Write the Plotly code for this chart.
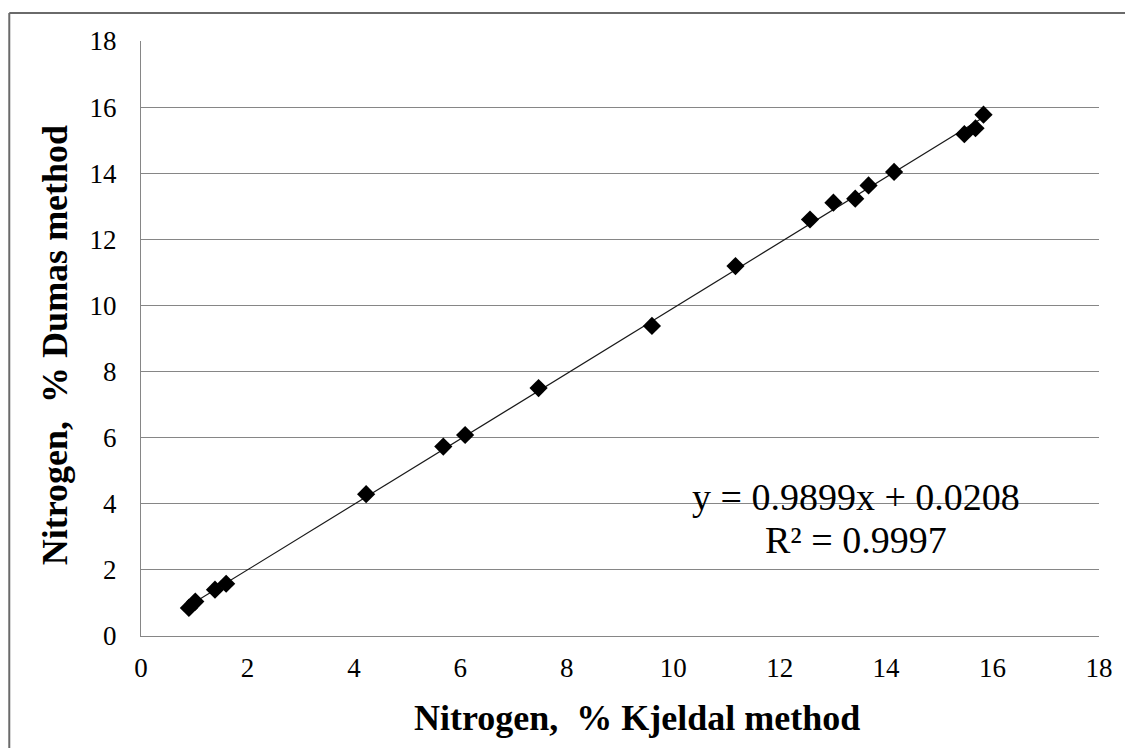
import plotly.graph_objects as go

# Data
kjeldahl = [0.90, 1.02, 1.39, 1.60, 4.23, 5.68, 6.09, 7.47, 9.60, 11.17,
            12.57, 13.01, 13.42, 13.67, 14.15, 15.47, 15.68, 15.83]
dumas = [0.85, 1.04, 1.40, 1.58, 4.29, 5.73, 6.08, 7.50, 9.38, 11.19,
         12.60, 13.11, 13.23, 13.63, 14.04, 15.18, 15.36, 15.77]
slope = 0.9899
intercept = 0.0208
r_squared = 0.9997
tick_vals = [0, 2, 4, 6, 8, 10, 12, 14, 16, 18]

FONT = "Liberation Serif"
GRID = "#868686"

trend_x = [min(kjeldahl), max(kjeldahl)]
trend_y = [slope * v + intercept for v in trend_x]

fig = go.Figure()
fig.add_trace(go.Scatter(x=trend_x, y=trend_y, mode="lines",
                         line=dict(color="#1a1a1a", width=1.2),
                         showlegend=False, hoverinfo="skip"))
fig.add_trace(go.Scatter(x=kjeldahl, y=dumas, mode="markers",
                         marker=dict(symbol="diamond", size=14, color="black"),
                         showlegend=False))

fig.update_layout(
    width=1117, height=740,
    margin=dict(l=133, r=24, t=33, b=112),
    paper_bgcolor="white", plot_bgcolor="white",
    font=dict(family=FONT, color="black"),
    xaxis=dict(range=[0, 18], tickvals=tick_vals, showgrid=False,
               showline=True, linecolor=GRID, linewidth=1, zeroline=False,
               ticks="", tickfont=dict(size=27, family=FONT), ticklabelstandoff=8),
    yaxis=dict(range=[0, 18], tickvals=tick_vals, showgrid=True,
               gridcolor=GRID, gridwidth=1, showline=True, linecolor=GRID,
               linewidth=1, zeroline=False, ticks="",
               tickfont=dict(size=27, family=FONT), ticklabelstandoff=18),
)

fig.add_annotation(text="<b>Nitrogen,  % Kjeldal method</b>", xref="paper", yref="paper",
                   x=0.518, y=-0.138, showarrow=False, xanchor="center", yanchor="middle",
                   font=dict(size=36, family=FONT))
fig.add_annotation(text="<b>Nitrogen,  % Dumas method</b>", xref="paper", yref="paper",
                   x=-0.0896, y=0.489, showarrow=False, xanchor="center", yanchor="middle",
                   textangle=-90, font=dict(size=36, family=FONT))
fig.add_annotation(text=f"y = {slope}x + {intercept}", x=13.43, y=4.2,
                   showarrow=False, xanchor="center", yanchor="middle",
                   font=dict(size=38, family=FONT))
fig.add_annotation(text=f"R² = {r_squared}", x=13.43, y=2.9,
                   showarrow=False, xanchor="center", yanchor="middle",
                   font=dict(size=38, family=FONT))

# outer chart frame (top and left edges visible in the reference)
fig.add_shape(type="line", xref="paper", yref="paper", x0=-0.1375, x1=1.1,
              y0=1.047, y1=1.047, line=dict(color="#6a6a6a", width=2))
fig.add_shape(type="line", xref="paper", yref="paper", x0=-0.1375, x1=-0.1375,
              y0=-0.25, y1=1.047, line=dict(color="#6a6a6a", width=2))

fig.write_html("out.html")
